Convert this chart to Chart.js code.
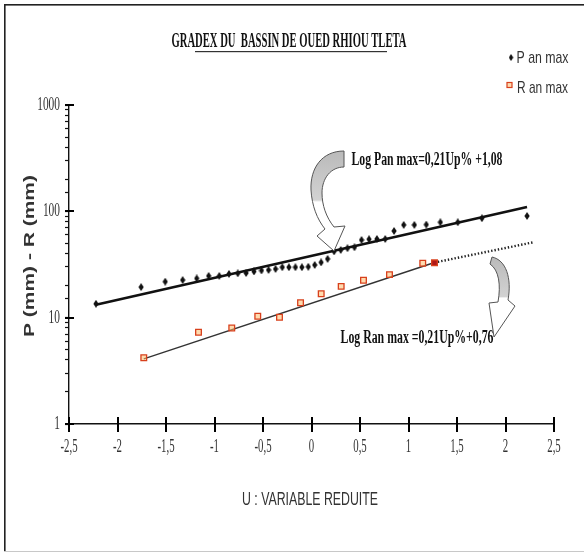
<!DOCTYPE html>
<html lang="fr">
<head>
<meta charset="UTF-8">
<title>Gradex du bassin de Oued Rhiou Tleta</title>
<script src="https://cdn.jsdelivr.net/npm/chart.js"></script>
<style>
  html, body { margin: 0; padding: 0; background: #fff; }
  #wrap { width: 584px; height: 556px; position: relative; }
</style>
</head>
<body>
<div id="wrap"><canvas id="gradex"></canvas></div>
<script>
// variable réduite U et maxima annuels P et R (mm)
const pU = [-2.222, -1.757, -1.508, -1.328, -1.183, -1.060, -0.951, -0.851, -0.760, -0.674,
            -0.593, -0.516, -0.443, -0.371, -0.301, -0.233, -0.166, -0.099, -0.033, 0.033,
            0.099, 0.166, 0.233, 0.301, 0.371, 0.443, 0.516, 0.593, 0.674, 0.760,
            0.851, 0.951, 1.060, 1.183, 1.328, 1.508, 1.757, 2.222];
const pMax = [13.5, 19.4, 21.8, 22.6, 23.4, 24.7, 24.7, 25.8, 26.1, 26.3,
              27.2, 27.8, 28.1, 28.7, 29.8, 29.8, 29.8, 29.8, 30.1, 31.3,
              33.1, 35.7, 42.0, 43.3, 45.0, 45.9, 53.8, 54.7, 55.0, 55.0,
              65.4, 74.5, 74.5, 75.0, 78.9, 78.9, 86.1, 90.5];
const rU = [-1.729, -1.165, -0.822, -0.554, -0.330, -0.113, 0.100, 0.306, 0.536, 0.804, 1.147, 1.268];
const rMax = [4.2, 7.3, 8.0, 10.3, 10.1, 13.8, 16.8, 19.7, 22.5, 25.4, 32.5, 32.8];

// droites de Gradex
const pFitU = [-2.222, 2.222];
const pFit = [13.2, 110];
const rFitU = [-1.729, 1.268];
const rFit = [4.1, 33];
const rExtU = [1.268, 2.28];
const rExt = [33, 51];

const xTickValues = [-2.5, -2, -1.5, -1, -0.5, 0, 0.5, 1, 1.5, 2, 2.5];
const yTickValues = [1, 10, 100, 1000];

const toPts = (xs, ys) => xs.map((x, i) => ({ x: x, y: ys[i] }));

// losange étroit pour P
const diamond = document.createElement('canvas');
diamond.width = 6; diamond.height = 8;
(function () {
  const c = diamond.getContext('2d');
  c.fillStyle = '#111';
  c.beginPath();
  c.moveTo(3, 0); c.lineTo(5.6, 4); c.lineTo(3, 8); c.lineTo(0.4, 4);
  c.closePath(); c.fill();
})();

// texte comprimé horizontalement à une largeur donnée
function fitText(ctx, text, x, y, font, width, color, rot) {
  ctx.save();
  ctx.font = font;
  ctx.fillStyle = color;
  const w = ctx.measureText(text).width;
  ctx.translate(x, y);
  if (rot) ctx.rotate(rot);
  ctx.scale(width / w, 1);
  ctx.textAlign = 'center';
  ctx.textBaseline = 'middle';
  ctx.fillText(text, 0, 0);
  ctx.restore();
}

function squeezeText(ctx, text, x, y, font, sx, align, color) {
  ctx.save();
  ctx.font = font;
  ctx.fillStyle = color;
  ctx.translate(x, y);
  ctx.scale(sx, 1);
  ctx.textAlign = align;
  ctx.textBaseline = 'middle';
  ctx.fillText(text, 0, 0);
  ctx.restore();
}

function arrowFill(ctx, y0, y1) {
  const g = ctx.createLinearGradient(0, y0, 0, y1);
  g.addColorStop(0, '#b9b9b9');
  g.addColorStop(0.5, '#d2d2d2');
  g.addColorStop(0.52, '#ffffff');
  g.addColorStop(1, '#ffffff');
  return g;
}

const decor = {
  id: 'decor',
  afterDraw(chart) {
    const ctx = chart.ctx;
    const xs = chart.scales.x, ys = chart.scales.y;
    const area = chart.chartArea;
    const left = Math.round(area.left);
    const bottom = Math.round(area.bottom);

    // cadre
    ctx.save();
    ctx.fillStyle = '#222';
    ctx.fillRect(4, 4, 580, 1.6);
    ctx.fillRect(4, 4, 1.6, 548);
    ctx.fillStyle = '#c8c8c8';
    ctx.fillRect(4, 551, 580, 1);
    ctx.restore();

    // graduations principales traversant les axes
    ctx.save();
    ctx.fillStyle = '#000';
    xTickValues.forEach(v => {
      const px = Math.round(xs.getPixelForValue(v));
      ctx.fillRect(px - 1, bottom - 7, 2, 15);
    });
    yTickValues.forEach(v => {
      const py = Math.round(ys.getPixelForValue(v));
      ctx.fillRect(left - 4, py - 1, 9, 2);
    });
    ctx.restore();

    const serif = 'Liberation Serif, Times New Roman, serif';
    const sans = 'Liberation Sans, Arial, sans-serif';
    xTickValues.forEach(v => {
      squeezeText(ctx, String(v).replace('.', ','), xs.getPixelForValue(v), 447,
        '18px ' + serif, 0.6, 'center', '#333');
    });
    yTickValues.forEach(v => {
      squeezeText(ctx, String(v), left - 9, ys.getPixelForValue(v), '19px ' + serif, 0.6, 'right', '#333');
    });

    // titre souligné
    fitText(ctx, 'GRADEX DU  BASSIN DE OUED RHIOU TLETA', 289, 42, 'bold 20px ' + serif, 235, '#111');
    ctx.save();
    ctx.fillStyle = '#333';
    ctx.fillRect(195, 51, 192, 1.2);
    ctx.restore();

    // légende
    ctx.drawImage(diamond, 508.5, 54, 5, 7);
    ctx.save();
    ctx.strokeStyle = '#d8401c';
    ctx.fillStyle = 'rgba(255,190,110,0.55)';
    ctx.lineWidth = 1.2;
    ctx.fillRect(507, 82.5, 5, 5);
    ctx.strokeRect(507, 82.5, 5, 5);
    ctx.restore();
    fitText(ctx, 'P an max', 542.5, 58.5, '17px ' + sans, 52, '#333');
    fitText(ctx, 'R an max', 542.5, 88.5, '17px ' + sans, 51, '#333');

    // titres des axes
    fitText(ctx, 'U : VARIABLE REDUITE', 310, 500, '18px ' + sans, 136, '#333');
    fitText(ctx, 'P (mm) - R (mm)', 30, 256, 'bold 14px ' + sans, 162, '#333', -Math.PI / 2);

    // équations
    fitText(ctx, 'Log Pan max=0,21Up% +1,08', 427, 160, 'bold 18px ' + serif, 151, '#111');
    fitText(ctx, 'Log Ran max =0,21Up%+0,76', 417, 338, 'bold 18px ' + serif, 153, '#111');

    // flèches courbes
    ctx.save();
    ctx.strokeStyle = '#555';
    ctx.lineWidth = 1;
    ctx.beginPath();
    ctx.moveTo(344, 151);
    ctx.bezierCurveTo(322, 151, 310, 168, 311, 190);
    ctx.bezierCurveTo(312, 206, 317, 219, 325, 229);
    ctx.lineTo(317, 236);
    ctx.lineTo(334, 251);
    ctx.lineTo(345, 226);
    ctx.lineTo(334, 227);
    ctx.bezierCurveTo(326, 217, 322, 205, 322, 193);
    ctx.bezierCurveTo(322, 178, 331, 167, 344, 167);
    ctx.closePath();
    ctx.fillStyle = arrowFill(ctx, 150, 250);
    ctx.fill();
    ctx.stroke();

    ctx.beginPath();
    ctx.moveTo(492, 257);
    ctx.bezierCurveTo(506, 260, 512, 278, 508, 300);
    ctx.lineTo(515, 306);
    ctx.lineTo(494, 337);
    ctx.lineTo(489, 303);
    ctx.lineTo(498, 302);
    ctx.bezierCurveTo(501, 285, 499, 270, 490, 264);
    ctx.closePath();
    ctx.fillStyle = arrowFill(ctx, 256, 337);
    ctx.fill();
    ctx.stroke();
    ctx.restore();
  }
};

new Chart(document.getElementById('gradex'), {
  type: 'scatter',
  data: {
    datasets: [
      {
        label: 'P an max',
        data: toPts(pU, pMax),
        pointStyle: diamond,
        order: 1
      },
      {
        label: 'R an max',
        data: toPts(rU, rMax),
        pointStyle: 'rect',
        pointRadius: 4,
        borderWidth: 1.3,
        borderColor: '#d8401c',
        backgroundColor: rU.map((u, i) => i === rU.length - 1 ? '#b01818' : 'rgba(255,190,110,0.55)'),
        order: 1
      },
      {
        label: 'droite P',
        data: toPts(pFitU, pFit),
        showLine: true,
        pointRadius: 0,
        borderColor: '#111',
        borderWidth: 2.6,
        order: 2
      },
      {
        label: 'droite R',
        data: toPts(rFitU, rFit),
        showLine: true,
        pointRadius: 0,
        borderColor: '#333',
        borderWidth: 1.4,
        order: 2
      },
      {
        label: 'extrapolation R',
        data: toPts(rExtU, rExt),
        showLine: true,
        pointRadius: 0,
        borderColor: '#222',
        borderWidth: 2.4,
        borderDash: [1.4, 2],
        order: 2
      }
    ]
  },
  options: {
    responsive: true,
    maintainAspectRatio: false,
    animation: false,
    layout: { padding: { top: 105, right: 30, left: 0, bottom: 0 } },
    plugins: { legend: { display: false }, tooltip: { enabled: false } },
    scales: {
      x: {
        type: 'linear',
        min: -2.5,
        max: 2.5,
        afterBuildTicks: s => { s.ticks = xTickValues.map(v => ({ value: v })); },
        afterFit: s => { s.height = 132; },
        ticks: { display: false },
        grid: { display: false },
        border: { display: true, color: '#111', width: 1.6 }
      },
      y: {
        type: 'logarithmic',
        min: 1,
        max: 1000,
        afterFit: s => { s.width = 69; },
        ticks: { display: false },
        grid: {
          display: true,
          drawOnChartArea: false,
          drawTicks: true,
          tickLength: 4,
          tickColor: '#111',
          tickWidth: 1.2
        },
        border: { display: true, color: '#111', width: 1.4 }
      }
    }
  },
  plugins: [decor]
});
</script>
</body>
</html>
